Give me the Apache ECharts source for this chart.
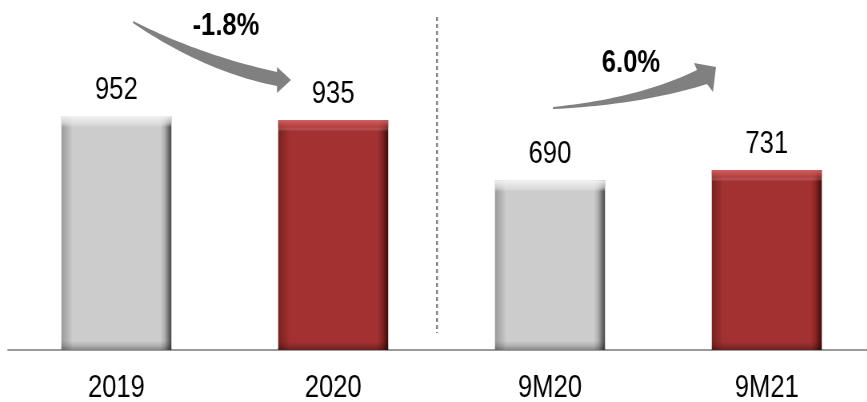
<!DOCTYPE html>
<html><head><meta charset="utf-8">
<script src="https://cdn.jsdelivr.net/npm/echarts@6/dist/echarts.min.js"></script>
<style>
html,body{margin:0;padding:0;background:#fff;overflow:hidden;width:867px;height:402px}
#c{width:1084px;height:402px;transform:scaleX(0.8);transform-origin:0 0}
</style>
</head><body><div id="c"></div>
<script>
const categories = ['2019', '2020', '9M20', '9M21'];
const values = [952, 935, 690, 731];
const growthLabels = ['-1.8%', '6.0%'];

const S = 0.8;                  // horizontal condensing of the whole drawing
const FONT = "'Liberation Sans', Arial, sans-serif";
const PX_PER_UNIT = 295 / 1200; // plot height / y max

function sideFill(edgeL, midL, main, midR, edgeR, darkR) {
  return {type:'linear',x:0,y:0,x2:1,y2:0,colorStops:[
    {offset:0,color:edgeL},{offset:0.07,color:midL},{offset:0.1,color:main},
    {offset:0.9,color:main},{offset:0.94,color:midR},{offset:0.975,color:edgeR},{offset:1,color:darkR}]};
}
function topFill(v, light, lightSoft) {
  const h = v * PX_PER_UNIT;
  const a = 7 / h, b = 11 / h, c = 1 - 9 / h, d = 1 - 4 / h;
  return {type:'linear',x:0,y:0,x2:0,y2:1,colorStops:[
    {offset:0,color:light},{offset:a,color:lightSoft},{offset:b,color:'rgba(255,255,255,0)'},
    {offset:c,color:'rgba(0,0,0,0)'},{offset:d,color:'rgba(0,0,0,0.15)'},{offset:1,color:'rgba(0,0,0,0.35)'}]};
}
const grayFill = sideFill('#9a9a9a', '#bbbbbb', '#cccccc', '#acacac', '#6e6e6e', '#444444');
const redFill  = sideFill('#7a2121', '#952b2b', '#a33131', '#892727', '#5c1717', '#3a0d0d');
const fills = [grayFill, redFill, grayFill, redFill];
const tops = values.map((v, i) => i % 2 === 0
  ? topFill(v, 'rgba(245,245,245,0.95)', 'rgba(235,235,235,0.6)')
  : topFill(v, 'rgba(214,96,96,0.95)', 'rgba(200,80,80,0.5)'));

// curved arrow outlines (decoration), in reference pixel space
function quad(p0, c, p1, n) {
  const pts = [];
  for (let i = 0; i <= n; i++) {
    const t = i / n, u = 1 - t;
    pts.push([u*u*p0[0] + 2*u*t*c[0] + t*t*p1[0], u*u*p0[1] + 2*u*t*c[1] + t*t*p1[1]]);
  }
  return pts;
}
function arrow(tailA, ctrlA, endA, head, endB, ctrlB, tailB) {
  return quad(tailA, ctrlA, endA, 24).concat(head, quad(endB, ctrlB, tailB, 24))
    .map(p => [p[0] / S, p[1]]);
}
const arrowLeft = arrow([133,21],[200,55],[277,72], [[277,67],[291,80],[277,93]], [277,86],[205,72],[133,23]);
const arrowRight = arrow([553,107],[640,98],[697,70], [[694,63],[716,67],[713,92]], [707,84],[640,105],[553,109]);

const chart = echarts.init(document.getElementById('c'), null, {renderer:'canvas', width:1084, height:402});
chart.setOption({
  animation:false,
  grid:{left:8 / S, right:-8 / S, top:55, bottom:52, outerBoundsMode:'none', containLabel:false},
  xAxis:{type:'category', data:categories,
    axisLine:{show:true, lineStyle:{color:'#9a9a9a', width:2}},
    axisTick:{show:false},
    axisLabel:{fontFamily:FONT, fontSize:32, color:'#000', margin:22}},
  yAxis:{type:'value', min:0, max:1200, show:false, splitLine:{show:false}},
  series:[
    {type:'bar', barWidth:110 / S, z:2,
     data: values.map((v,i)=>({value:v, itemStyle:{color:fills[i]}})),
     label:{show:true, position:'top', distance:10, fontFamily:FONT, fontSize:32, color:'#000'}},
    {type:'bar', barWidth:110 / S, barGap:'-100%', z:3, silent:true,
     data: values.map((v,i)=>({value:v, itemStyle:{color:tops[i]}}))}
  ],
  graphic:[
    {type:'line', shape:{x1:437 / S, y1:17, x2:437 / S, y2:333}, style:{stroke:'#808080', lineWidth:2.4, lineDash:[4,3]}},
    {type:'polygon', shape:{points:arrowLeft}, style:{fill:'#808080'}},
    {type:'polygon', shape:{points:arrowRight}, style:{fill:'#808080'}},
    {type:'text', x:226 / S, y:26, style:{text:growthLabels[0], font:"bold 32px " + FONT, fill:'#000', textAlign:'center', textVerticalAlign:'middle'}},
    {type:'text', x:631 / S, y:63, style:{text:growthLabels[1], font:"bold 32px " + FONT, fill:'#000', textAlign:'center', textVerticalAlign:'middle'}}
  ]
});
</script></body></html>
